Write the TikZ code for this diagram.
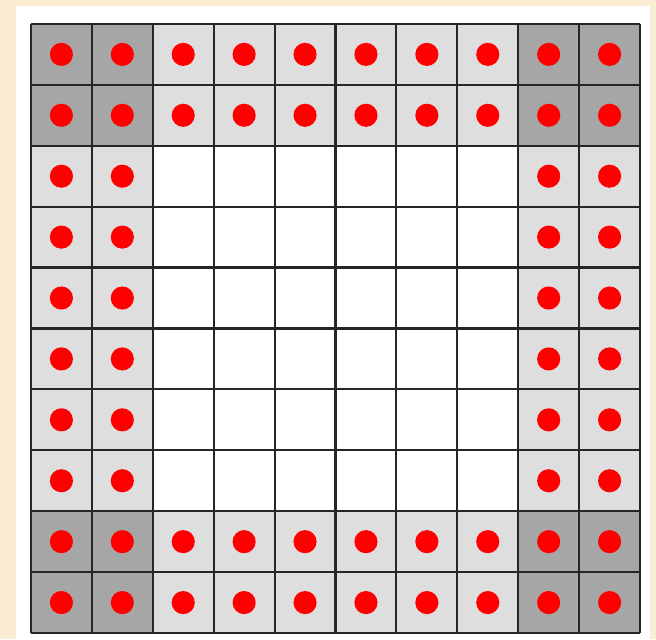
\documentclass[tikz,border=0pt]{standalone}
\usepackage{tikz}
\definecolor{mybeige}{RGB}{250,237,212}
\definecolor{mydarkcell}{RGB}{166,166,166}
\definecolor{mylightcell}{RGB}{222,222,222}
\definecolor{mygrid}{RGB}{38,38,38}
\definecolor{myred}{RGB}{255,0,0}
\tikzset{
  lightcell/.style={fill=mylightcell},
  darkcell/.style={fill=mydarkcell},
  gridline/.style={draw=mygrid, line width=1pt},
  reddot/.style={circle, fill=myred, minimum size=0.38cm, inner sep=0pt}
}

\begin{document}
\begin{tikzpicture}
  % Page and white panel
  \fill[mybeige] (-0.508,-0.098) rectangle (10.262,10.393);
  \useasboundingbox (-0.508,-0.098) rectangle (10.262,10.393);
  \fill[white] (-0.246,-0.098) rectangle (10.164,10.295);

  % Border band (two cells wide)
  \fill[lightcell] (0,0) rectangle (10,2);
  \fill[lightcell] (0,8) rectangle (10,10);
  \fill[lightcell] (0,2) rectangle (2,8);
  \fill[lightcell] (8,2) rectangle (10,8);

  % Corner blocks
  \fill[darkcell] (0,0) rectangle (2,2);
  \fill[darkcell] (8,0) rectangle (10,2);
  \fill[darkcell] (0,8) rectangle (2,10);
  \fill[darkcell] (8,8) rectangle (10,10);

  % Grid
  \draw[gridline] (0,0) grid (10,10);

  % Dots on the border cells
  \foreach \x in {0,...,9} {
    \foreach \y in {0,...,9} {
      \pgfmathtruncatemacro\onband{(\x<2)||(\x>7)||(\y<2)||(\y>7)}
      \ifnum\onband=1
        \node[reddot] (dot-\x-\y) at (\x+0.5,\y+0.5) {};
      \fi
    }
  }
\end{tikzpicture}
\end{document}
